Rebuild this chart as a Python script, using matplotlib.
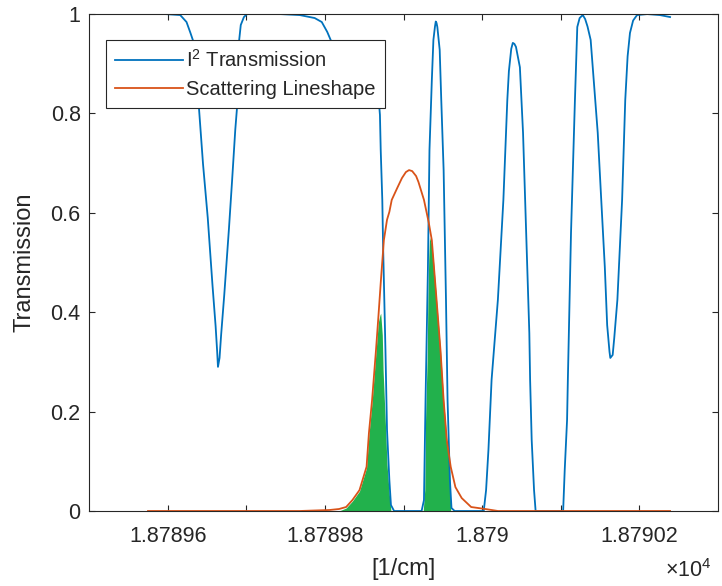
import matplotlib
matplotlib.use("Agg")
import matplotlib.pyplot as plt

plt.rcParams['font.family'] = ['Liberation Sans', 'DejaVu Sans']
plt.rcParams['mathtext.fontset'] = 'custom'
plt.rcParams['mathtext.rm'] = 'Liberation Sans'
plt.rcParams['mathtext.it'] = 'Liberation Sans:italic'

#%% DATA (wavenumber in 1/cm)

i2_wn = [18789.575, 18789.597, 18789.616, 18789.624, 18789.629, 18789.632, 18789.637, 18789.640,
         18789.645, 18789.651, 18789.657, 18789.661, 18789.663, 18789.664, 18789.666, 18789.668,
         18789.672, 18789.678, 18789.682, 18789.686, 18789.688, 18789.690, 18789.691, 18789.693,
         18789.697, 18789.701, 18789.717, 18789.743, 18789.768, 18789.787, 18789.796, 18789.803,
         18789.810, 18789.816, 18789.825, 18789.837, 18789.850, 18789.859, 18789.865, 18789.869,
         18789.870, 18789.871, 18789.873, 18789.874, 18789.877, 18789.879, 18789.882, 18789.884,
         18789.888, 18789.919, 18789.923, 18789.926, 18789.928, 18789.931, 18789.933, 18789.936,
         18789.938, 18789.940, 18789.941, 18789.942, 18789.943, 18789.946, 18789.948, 18789.951,
         18789.954, 18789.956, 18789.959, 18789.961, 18789.965, 18790.002, 18790.005, 18790.008,
         18790.012, 18790.020, 18790.027, 18790.032, 18790.034, 18790.037, 18790.039, 18790.041,
         18790.043, 18790.048, 18790.052, 18790.056, 18790.060, 18790.061, 18790.063, 18790.066,
         18790.068, 18790.103, 18790.105, 18790.108, 18790.109, 18790.113, 18790.118, 18790.121,
         18790.124, 18790.128, 18790.131, 18790.134, 18790.138, 18790.147, 18790.151, 18790.156,
         18790.159, 18790.162, 18790.163, 18790.166, 18790.168, 18790.172, 18790.178, 18790.182,
         18790.185, 18790.188, 18790.192, 18790.197, 18790.210, 18790.226, 18790.239]
i2_trans = [1.000, 1.000, 0.998, 0.984, 0.962, 0.948, 0.867, 0.807,
            0.698, 0.590, 0.455, 0.372, 0.320, 0.290, 0.308, 0.354,
            0.435, 0.569, 0.666, 0.767, 0.807, 0.877, 0.948, 0.978,
            0.994, 1.000, 1.000, 1.000, 0.998, 0.992, 0.984, 0.964,
            0.938, 0.918, 0.903, 0.891, 0.877, 0.857, 0.837, 0.817,
            0.797, 0.726, 0.626, 0.535, 0.324, 0.163, 0.062, 0.012,
            0.000, 0.000, 0.000, 0.022, 0.223, 0.485, 0.726, 0.867,
            0.948, 0.975, 0.985, 0.982, 0.974, 0.928, 0.827, 0.686,
            0.425, 0.223, 0.062, 0.006, 0.000, 0.000, 0.042, 0.123,
            0.264, 0.425, 0.626, 0.827, 0.885, 0.930, 0.942, 0.940,
            0.934, 0.893, 0.761, 0.559, 0.358, 0.264, 0.143, 0.042,
            0.000, 0.000, 0.082, 0.183, 0.264, 0.559, 0.827, 0.974,
            0.992, 0.998, 0.990, 0.975, 0.948, 0.761, 0.640, 0.491,
            0.374, 0.320, 0.308, 0.314, 0.348, 0.425, 0.626, 0.827,
            0.915, 0.962, 0.987, 0.998, 1.000, 0.998, 0.994]

scat_wn = [18789.575, 18789.768, 18789.806, 18789.818, 18789.827, 18789.835, 18789.844, 18789.853,
           18789.856, 18789.860, 18789.865, 18789.868, 18789.871, 18789.875, 18789.879, 18789.882,
           18789.885, 18789.892, 18789.898, 18789.903, 18789.907, 18789.911, 18789.916, 18789.919,
           18789.926, 18789.932, 18789.936, 18789.938, 18789.942, 18789.947, 18789.951, 18789.955,
           18789.960, 18789.966, 18789.974, 18789.986, 18790.004, 18790.020, 18790.239]
scat_val = [0.000, 0.000, 0.002, 0.004, 0.008, 0.022, 0.042, 0.089,
            0.157, 0.223, 0.324, 0.390, 0.459, 0.545, 0.586, 0.602,
            0.626, 0.650, 0.670, 0.682, 0.686, 0.684, 0.674, 0.662,
            0.626, 0.581, 0.545, 0.505, 0.425, 0.324, 0.223, 0.143,
            0.089, 0.048, 0.026, 0.008, 0.004, 0.000, 0.000]

# transmitted part of the lineshape (green), two pass bands
pass1_wn = [18789.818, 18789.827, 18789.835, 18789.844, 18789.853, 18789.856, 18789.860, 18789.865,
            18789.868, 18789.870, 18789.871, 18789.873, 18789.874, 18789.877, 18789.879, 18789.882,
            18789.884]
pass1_val = [0.000, 0.006, 0.020, 0.040, 0.087, 0.153, 0.219, 0.320,
             0.380, 0.394, 0.398, 0.354, 0.284, 0.173, 0.093, 0.032,
             0.000]
pass2_wn = [18789.925, 18789.927, 18789.928, 18789.930, 18789.931, 18789.932, 18789.933, 18789.936,
            18789.938, 18789.942, 18789.947, 18789.951, 18789.955, 18789.957, 18789.959, 18789.960]
pass2_val = [0.000, 0.042, 0.183, 0.304, 0.425, 0.505, 0.551, 0.535,
             0.505, 0.425, 0.324, 0.223, 0.143, 0.113, 0.062, 0.000]

xtick_pos = [18789.6, 18789.7, 18789.8, 18789.9, 18790.0, 18790.1, 18790.2]
xtick_lab = ['1.87896', '', '1.87898', '', '1.879', '', '1.87902']
ytick_pos = [0, 0.2, 0.4, 0.6, 0.8, 1.0]
ytick_lab = ['0', '0.2', '0.4', '0.6', '0.8', '1']

#%% PLOT

axcol = '#262626'
fig = plt.figure(figsize=(7.22, 5.86), dpi=100)
ax = fig.add_axes([0.1233, 0.128, 0.8712, 0.848])

ax.fill_between(pass1_wn, 0, pass1_val, color='#22b14c', lw=0)
ax.fill_between(pass2_wn, 0, pass2_val, color='#22b14c', lw=0)
ax.plot(i2_wn, i2_trans, color='#0072BD', lw=1.3, label=r'I$^2$ Transmission',
        solid_joinstyle='round')
ax.plot(scat_wn, scat_val, color='#D95319', lw=1.3, label='Scattering Lineshape',
        solid_joinstyle='round')

ax.set_xlim(18789.5, 18790.3)
ax.set_ylim(0, 1)
ax.set_xticks(xtick_pos)
ax.set_xticklabels(xtick_lab)
ax.set_yticks(ytick_pos)
ax.set_yticklabels(ytick_lab)
ax.tick_params(direction='in', length=4.5, width=0.8, colors=axcol, labelsize=15.5,
               top=True, right=True)
ax.tick_params(axis='x', pad=11)
ax.tick_params(axis='y', pad=6)
for s in ax.spines.values():
    s.set_color(axcol)
    s.set_linewidth(0.8)

ax.set_xlabel('[1/cm]', fontsize=17, color=axcol)
ax.set_ylabel('Transmission', fontsize=17, color=axcol)
ax.xaxis.set_label_coords(0.5, -0.094)
ax.yaxis.set_label_coords(-0.085, 0.5)
fig.text(0.986, 0.006, r'$\times$10$^4$', fontsize=15.5, color=axcol, ha='right', va='bottom')

leg = ax.legend(loc='upper left', bbox_to_anchor=(0.027, 0.948), borderaxespad=0,
                fontsize=14.5, fancybox=False, framealpha=1, edgecolor=axcol,
                handlelength=3.4, handletextpad=0.15, borderpad=0.44, labelspacing=0.48)
leg.get_frame().set_linewidth(0.8)
for t in leg.get_texts():
    t.set_color(axcol)

fig.savefig('out.png', dpi=100)
